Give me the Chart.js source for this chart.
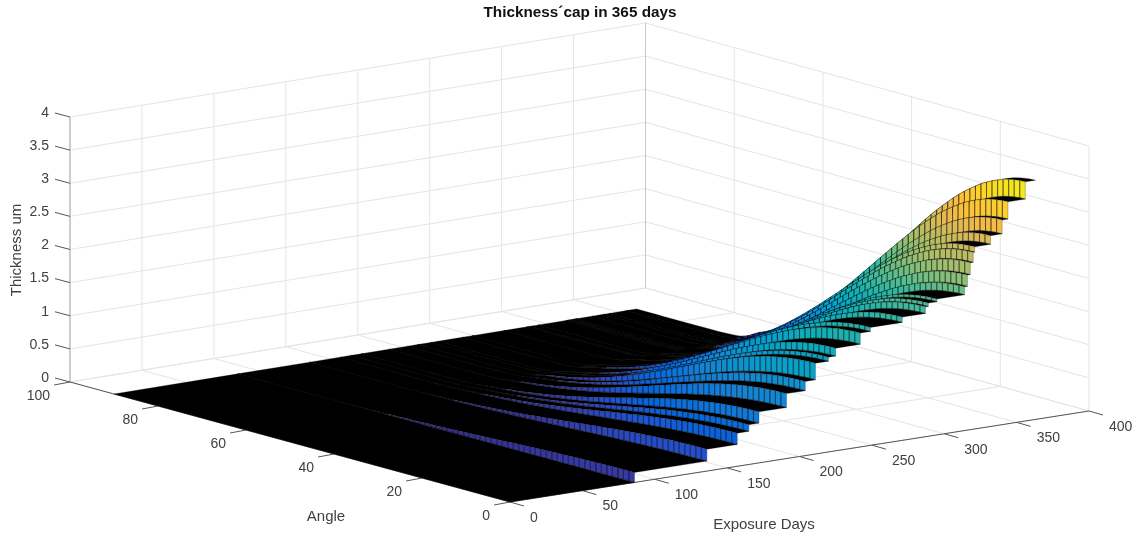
<!DOCTYPE html>
<html>
<head>
<meta charset="utf-8">
<title>Thickness cap</title>
<script src="https://cdn.jsdelivr.net/npm/chart.js@4"></script>
<style>
    html, body { margin: 0; padding: 0; background: #fff; }
    canvas { display: block; }
</style>
</head>
<body>
<canvas id="surfaceChart" width="1138" height="535"></canvas>
<script>
// Days where the thickness jumps, and the thickness (um) at angle 0 after each jump
const stepDays = [0, 86, 136, 157, 165, 172, 191, 204, 211, 220, 225, 242, 249, 271, 287, 289, 295, 314, 316, 318, 320, 321, 332, 340, 344, 356];
const stepThickness = [0, 0.15, 0.33, 0.50, 0.60, 0.77, 0.98, 1.12, 1.37, 1.43, 1.55, 1.72, 1.78, 1.86, 1.96, 2.01, 2.05, 2.17, 2.34, 2.52, 2.67, 2.75, 2.88, 3.09, 3.35, 3.61];
const lastDay = 363;

// Angle columns of the surface and the share of the angle 0 thickness left at each (estimated from the ridge line)
const angles = [0, 1.25, 2.5, 3.75, 5, 6.25, 7.5, 8.75, 10, 11.25, 12.5, 13.75, 15, 16.25, 17.5, 18.75, 20, 21.25, 22.5, 23.75, 25, 26.25, 27.5, 28.75, 30, 31.25, 32.5, 33.75, 35, 36.25, 37.5, 38.75, 40, 41.25, 42.5, 43.75, 45, 46.25, 47.5, 48.75, 50, 51.25, 52.5, 53.75, 55, 56.25, 57.5, 58.75, 60, 61.25, 62.5, 63.75, 65, 66.25, 67.5, 68.75, 70, 71.25, 72.5, 73.75, 75, 76.25, 77.5, 78.75, 80, 81.25, 82.5, 83.75, 85, 86.25, 87.5, 88.75, 90];
const angleShare = [1, 0.999, 0.996, 0.991, 0.985, 0.976, 0.966, 0.954, 0.941, 0.925, 0.908, 0.890, 0.871, 0.850, 0.827, 0.804, 0.780, 0.755, 0.729, 0.702, 0.675, 0.647, 0.619, 0.591, 0.563, 0.534, 0.506, 0.478, 0.450, 0.423, 0.396, 0.370, 0.344, 0.320, 0.295, 0.272, 0.250, 0.229, 0.208, 0.189, 0.171, 0.154, 0.137, 0.122, 0.108, 0.095, 0.083, 0.072, 0.063, 0.050, 0.035, 0.020, 0.012, 0.008, 0.005, 0.003, 0.002, 0.001, 0.001, 0.001, 0.001, 0, 0, 0, 0, 0, 0, 0, 0, 0, 0, 0, 0];

// Axis ticks
const dayTicks = [0, 50, 100, 150, 200, 250, 300, 350, 400];
const angleTicks = [0, 20, 40, 60, 80, 100];
const thicknessTicks = [0, 0.5, 1, 1.5, 2, 2.5, 3, 3.5, 4];
const thicknessLabels = ['0', '0.5', '1', '1.5', '2', '2.5', '3', '3.5', '4'];

// Parula colormap, every third entry of the 64 step table
const parula = [[53, 42, 135], [53, 61, 173], [32, 83, 212], [2, 104, 225], [13, 117, 220], [20, 129, 214], [16, 142, 210], [7, 156, 207], [6, 167, 198], [15, 174, 185], [37, 181, 169], [66, 187, 152], [101, 190, 134], [135, 191, 119], [165, 190, 107], [192, 188, 96], [217, 186, 86], [241, 185, 74], [255, 195, 55], [250, 211, 42], [245, 228, 29], [249, 251, 14]];
const colorMax = 3.75;

// 3D view of the MATLAB axes, as plot units per data unit (the cross terms are the slight perspective)
function project(day, angle, thickness) {
    return {
        x: 510 + day * 1.4475 - angle * 4.4 - day * angle * 0.0000875,
        y: 502 - day * 0.2275 - angle * 1.2 - day * angle * 0.000075 - thickness * 66.25
    };
}

function surfaceColor(thickness) {
    const pos = Math.min(thickness / colorMax, 1) * (parula.length - 1);
    const i = Math.min(Math.floor(pos), parula.length - 2);
    const f = pos - i;
    const c = parula[i].map((v, k) => Math.round(v + (parula[i + 1][k] - v) * f));
    return 'rgb(' + c.join(',') + ')';
}

function lineDataset(points, color, width) {
    return { data: points, borderColor: color, borderWidth: width, fill: false };
}

function polygonDataset(points, fillColor, lineColor, width) {
    return {
        data: points.concat([points[0]]),
        backgroundColor: fillColor,
        borderColor: lineColor,
        borderWidth: width,
        fill: 'shape'
    };
}

// Everything is pushed back to front
const drawList = [];
const gridColor = '#e4e4e4';

// Back walls and floor grid
thicknessTicks.forEach(z => {
    drawList.push(lineDataset([project(0, 100, z), project(400, 100, z), project(400, 0, z)], gridColor, 1));
});
dayTicks.forEach(d => {
    drawList.push(lineDataset([project(d, 0, 0), project(d, 100, 0), project(d, 100, 4)], gridColor, 1));
});
angleTicks.forEach(a => {
    drawList.push(lineDataset([project(0, a, 0), project(400, a, 0), project(400, a, 4)], gridColor, 1));
});
drawList.push(lineDataset([project(400, 100, 0), project(400, 100, 4)], '#c8c8c8', 1));

// Axis lines and tick marks
drawList.push(lineDataset([project(0, 100, 0), project(0, 100, 4)], '#a6a6a6', 1));
drawList.push(lineDataset([project(0, 0, 0), project(0, 100, 0)], '#555555', 1));
drawList.push(lineDataset([project(0, 0, 0), project(400, 0, 0)], '#555555', 1));
thicknessTicks.forEach(z => {
    const p = project(0, 100, z);
    drawList.push(lineDataset([p, { x: p.x - 15, y: p.y - 4 }], '#555555', 1));
});
dayTicks.forEach(d => {
    const p = project(d, 0, 0);
    drawList.push(lineDataset([p, { x: p.x + 14, y: p.y + 4 }], '#555555', 1));
});
angleTicks.forEach(a => {
    const p = project(0, a, 0);
    drawList.push(lineDataset([p, { x: p.x - 16, y: p.y + 3 }], '#555555', 1));
});

// Surface: farthest step first, each as a black flat plus a faceted riser
for (let i = stepDays.length - 1; i >= 0; i--) {
    const dayFrom = stepDays[i];
    const dayTo = i === stepDays.length - 1 ? lastDay : stepDays[i + 1];
    const level = stepThickness[i];

    const near = angles.map((a, j) => project(dayFrom, a, level * angleShare[j]));
    const far = angles.map((a, j) => project(dayTo, a, level * angleShare[j])).reverse();
    drawList.push(polygonDataset(near.concat(far), '#000000', '#000000', 0.3));

    if (i === 0) continue;
    const below = stepThickness[i - 1];
    for (let j = angles.length - 2; j >= 0; j--) {
        const top = (level * angleShare[j] + level * angleShare[j + 1]) / 2;
        // Facets under about a pixel tall are all edge line in the reference, so they stay black
        const tall = (level - below) * angleShare[j] * 66.25 > 1;
        drawList.push(polygonDataset([
            project(dayFrom, angles[j], below * angleShare[j]),
            project(dayFrom, angles[j], level * angleShare[j]),
            project(dayFrom, angles[j + 1], level * angleShare[j + 1]),
            project(dayFrom, angles[j + 1], below * angleShare[j + 1])
        ], tall ? surfaceColor(top) : '#000000', tall ? 'rgba(0,0,0,0.5)' : '#000000', 0.5));
    }
}

// Tick labels and titles
const textPlugin = {
    id: 'axisText',
    afterDraw(chart) {
        const ctx = chart.ctx;
        const xs = chart.scales.x;
        const ys = chart.scales.y;
        const put = (text, p, dx, dy, align) => {
            ctx.textAlign = align;
            ctx.fillText(text, xs.getPixelForValue(p.x) + dx, ys.getPixelForValue(p.y) + dy);
        };
        ctx.save();
        ctx.textBaseline = 'middle';
        ctx.fillStyle = '#404040';
        ctx.font = '14px "Liberation Sans", Arial, sans-serif';
        thicknessTicks.forEach((z, i) => put(thicknessLabels[i], project(0, 100, z), -21, -4, 'right'));
        dayTicks.forEach(d => put(String(d), project(d, 0, 0), 20, 16, 'left'));
        angleTicks.forEach(a => put(String(a), project(0, a, 0), -20, 14, 'right'));

        ctx.font = '15px "Liberation Sans", Arial, sans-serif';
        ctx.textAlign = 'center';
        ctx.fillText('Angle', 326, 517);
        ctx.fillText('Exposure Days', 764, 525);
        ctx.save();
        ctx.translate(17, 250);
        ctx.rotate(-Math.PI / 2);
        ctx.fillText('Thickness um', 0, 0);
        ctx.restore();

        ctx.fillStyle = '#111111';
        ctx.font = 'bold 15.3px "Liberation Sans", Arial, sans-serif';
        ctx.fillText('Thickness\u00b4cap in 365 days', 580, 13);
        ctx.restore();
    }
};

// Chart.js draws dataset 0 last, so the back-to-front list is flipped
new Chart(document.getElementById('surfaceChart').getContext('2d'), {
    type: 'scatter',
    data: { datasets: drawList.reverse() },
    options: {
        responsive: false,
        animation: false,
        events: [],
        layout: { padding: 0 },
        showLine: true,
        elements: { point: { radius: 0 }, line: { tension: 0 } },
        plugins: { legend: { display: false }, title: { display: false }, tooltip: { enabled: false } },
        scales: {
            x: { type: 'linear', min: 0, max: 1138, display: false },
            y: { type: 'linear', min: 0, max: 535, reverse: true, display: false }
        }
    },
    plugins: [textPlugin]
});
</script>
</body>
</html>
